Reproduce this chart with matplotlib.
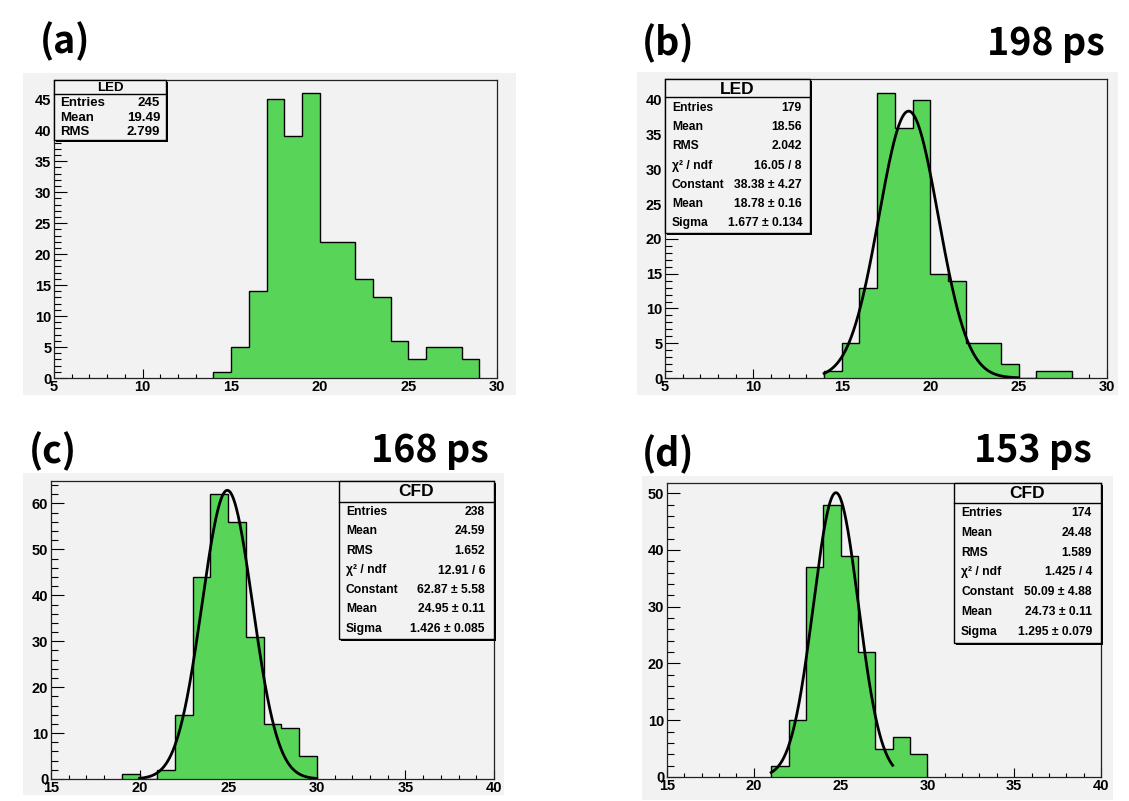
import numpy as np
import matplotlib
matplotlib.use('Agg')
import matplotlib.pyplot as plt
from matplotlib.patches import Rectangle
from matplotlib.ticker import MultipleLocator

W, H = 1129, 801

# ---------------- data ----------------
start_a = 14
counts_a = [1, 5, 14, 45, 39, 46, 22, 22, 16, 13, 6, 3, 5, 5, 3]
start_b = 14
counts_b = [1, 5, 13, 41, 36, 40, 15, 14, 5, 5, 2, 0, 1, 1]
start_c = 19
counts_c = [1, 0, 2, 14, 44, 62, 56, 31, 12, 11, 5]
start_d = 21
counts_d = [2, 10, 37, 48, 39, 22, 5, 7, 4]

fit_b = [38.38, 18.78, 1.677]
fit_c = [62.87, 24.95, 1.426]
fit_d = [50.09, 24.73, 1.295]
fit_range_b = [14, 25]
fit_range_c = [20, 30]
fit_range_d = [21, 28]

xlim_ab = [5, 30]
xlim_cd = [15, 40]
ymax = [48.1, 43.0, 64.9, 51.8]

stats_a = ("LED", [("Entries", "245"), ("Mean", "19.49"), ("RMS", "2.799")])
stats_b = ("LED", [("Entries", "179"), ("Mean", "18.56"), ("RMS", "2.042"),
                   ("χ² / ndf", "16.05 / 8"), ("Constant", "38.38 ± 4.27"),
                   ("Mean", "18.78 ± 0.16"), ("Sigma", "1.677 ± 0.134")])
stats_c = ("CFD", [("Entries", "238"), ("Mean", "24.59"), ("RMS", "1.652"),
                   ("χ² / ndf", "12.91 / 6"), ("Constant", "62.87 ± 5.58"),
                   ("Mean", "24.95 ± 0.11"), ("Sigma", "1.426 ± 0.085")])
stats_d = ("CFD", [("Entries", "174"), ("Mean", "24.48"), ("RMS", "1.589"),
                   ("χ² / ndf", "1.425 / 4"), ("Constant", "50.09 ± 4.88"),
                   ("Mean", "24.73 ± 0.11"), ("Sigma", "1.295 ± 0.079")])

panel_labels = ["(a)", "(b)", "(c)", "(d)"]
res_labels = ["", "198 ps", "168 ps", "153 ps"]

GREEN = '#58d558'
BG = '#f2f2f2'
FONT = 'Liberation Sans'
LABFONT = ['Noto Sans CJK KR', 'DejaVu Sans']

fig = plt.figure(figsize=(W / 100, H / 100), dpi=100)
fig.patch.set_facecolor('white')


def fx(x):
    return x / W


def fy(y):
    return 1 - y / H


def frect(x0, y0, x1, y1, **kw):
    r = Rectangle((fx(x0), fy(y1)), (x1 - x0) / W, (y1 - y0) / H,
                  transform=fig.transFigure, **kw)
    fig.add_artist(r)
    return r


def axes_px(x0, y0, x1, y1):
    return fig.add_axes([fx(x0), fy(y1), (x1 - x0) / W, (y1 - y0) / H])


# canvases (pads)
pads = [(23, 73, 516, 395), (637, 72, 1118, 395), (23, 473, 504, 795), (642, 476, 1113, 800)]
frames = [(54, 80, 497, 378), (665, 79, 1107, 378), (51, 481, 494, 779), (667, 483, 1101, 777)]

for p in pads:
    frect(*p, facecolor=BG, edgecolor='none', zorder=0)

hists = [(start_a, counts_a), (start_b, counts_b), (start_c, counts_c), (start_d, counts_d)]
fits = [None, (fit_b, fit_range_b), (fit_c, fit_range_c), (fit_d, fit_range_d)]
xlims = [xlim_ab, xlim_ab, xlim_cd, xlim_cd]
ymajor = [5, 5, 10, 10]
yminor = [1, 1, 2, 2]

axes = []
for i in range(4):
    ax = axes_px(*frames[i])
    axes.append(ax)
    ax.set_facecolor(BG)
    st, cnt = hists[i]
    edges = np.arange(st, st + len(cnt) + 1)
    ax.stairs(cnt, edges, fill=True, color=GREEN, zorder=2)
    ax.stairs(cnt, edges, fill=False, color='black', linewidth=1.0, baseline=0, zorder=3)
    if fits[i] is not None:
        (A, mu, sg), (lo, hi) = fits[i]
        xs = np.linspace(lo, hi, 400)
        ax.plot(xs, A * np.exp(-0.5 * ((xs - mu) / sg) ** 2), color='black', lw=2.0, zorder=4)
    ax.set_xlim(*xlims[i])
    ax.set_ylim(0, ymax[i])
    ax.xaxis.set_major_locator(MultipleLocator(5))
    ax.xaxis.set_minor_locator(MultipleLocator(1))
    ax.yaxis.set_major_locator(MultipleLocator(ymajor[i]))
    ax.yaxis.set_minor_locator(MultipleLocator(yminor[i]))
    ax.tick_params(axis='both', which='both', direction='in', top=False, right=False,
                   colors='black', labelsize=10.5)
    ax.tick_params(axis='x', which='major', length=6.5, width=0.8, pad=1.5)
    ax.tick_params(axis='x', which='minor', length=3.2, width=0.8)
    ax.tick_params(axis='y', which='major', length=9.5, width=0.8, pad=2)
    ax.tick_params(axis='y', which='minor', length=4.7, width=0.8)
    for lab in ax.get_xticklabels() + ax.get_yticklabels():
        lab.set_fontfamily(FONT)
        lab.set_fontweight('bold')
    for s in ax.spines.values():
        s.set_linewidth(0.9)
        s.set_color('#222222')


def stats_box(box, sep, title_y, row_y0, row_dy, lab_x, val_x, title_fs, fs, content):
    x0, y0, x1, y1 = box
    frect(x0 + 2, y0 + 2, x1 + 2, y1 + 2, facecolor='black', edgecolor='none', zorder=10)
    frect(x0, y0, x1, y1, facecolor=BG, edgecolor='black', linewidth=1.0, zorder=11)
    fig.add_artist(plt.Line2D([fx(x0), fx(x1)], [fy(sep), fy(sep)], transform=fig.transFigure,
                              color='black', lw=1.0, zorder=12))
    title, rows = content
    fig.text(fx((x0 + x1) / 2), fy(title_y), title, ha='center', va='center',
             fontsize=title_fs, fontweight='bold', family=FONT, zorder=13)
    for k, (lab, val) in enumerate(rows):
        yy = fy(row_y0 + k * row_dy)
        fig.text(fx(lab_x), yy, lab, ha='left', va='center', fontsize=fs,
                 fontweight='bold', family=FONT, zorder=13)
        fig.text(fx(val_x), yy, val, ha='right', va='center', fontsize=fs,
                 fontweight='bold', family=FONT, zorder=13)


stats_box((54, 80, 166, 140), 94, 88, 103, 14.6, 60, 160, 9.5, 9.5, stats_a)
stats_box((665, 79, 810, 233), 97, 89, 108, 19.2, 672, 802, 12.5, 8.7, stats_b)
stats_box((339, 481, 494, 639), 502, 492, 512, 19.5, 346, 485, 12.5, 8.7, stats_c)
stats_box((954, 483, 1101, 643), 503, 494, 513, 19.8, 961, 1092, 12.5, 8.7, stats_d)

# panel labels
lab_pos = [(40, 53), (642, 55), (29, 463), (642, 466)]
res_pos = [None, (1105, 55), (489, 462), (1092, 462)]
for i in range(4):
    x, y = lab_pos[i]
    fig.text(fx(x), fy(y), panel_labels[i], ha='left', va='baseline', fontsize=27,
             fontweight='bold', family=LABFONT)
    if res_pos[i] is not None:
        x, y = res_pos[i]
        fig.text(fx(x), fy(y), res_labels[i], ha='right', va='baseline', fontsize=27,
                 fontweight='bold', family=LABFONT)

fig.savefig('out.png', dpi=100, facecolor='white')
